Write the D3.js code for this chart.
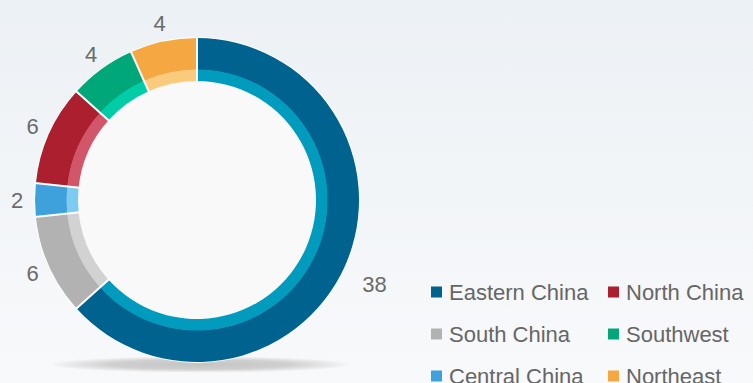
<!DOCTYPE html>
<html>
<head>
<meta charset="utf-8">
<script src="https://cdn.jsdelivr.net/npm/d3@7"></script>
<style>
  html, body { margin: 0; padding: 0; }
  body { width: 753px; height: 383px; overflow: hidden; }
  text { font-family: "Liberation Sans", Arial, sans-serif; }
</style>
</head>
<body>
<svg id="chart"></svg>
<script>
const width = 753;
const height = 383;

// data
const regions = ['Eastern China', 'South China', 'Central China', 'North China', 'Southwest', 'Northeast'];
const counts = [38, 6, 2, 6, 4, 4];
const outerColors = ['#00628f', '#b2b2b2', '#3fa1dc', '#ab1f2e', '#00a879', '#f5a842'];
const innerColors = ['#009bbd', '#d2d2d2', '#7dcbf1', '#d1566a', '#00cca8', '#facb7d'];
const legendOrder = ['Eastern China', 'North China', 'South China', 'Southwest', 'Central China', 'Northeast'];

const cx = 197, cy = 200;
const rOuter = 162, rMid = 130, rInner = 119;

const svg = d3.select('#chart')
  .attr('width', width)
  .attr('height', height);

const defs = svg.append('defs');

const bg = defs.append('linearGradient').attr('id', 'bg')
  .attr('x1', 0).attr('y1', 0).attr('x2', 0).attr('y2', 1);
bg.append('stop').attr('offset', '0%').attr('stop-color', '#ecf1f5');
bg.append('stop').attr('offset', '100%').attr('stop-color', '#f8f9fb');

const shadow = defs.append('radialGradient').attr('id', 'shadow');
shadow.append('stop').attr('offset', '0%').attr('stop-color', '#c4c4c4');
shadow.append('stop').attr('offset', '60%').attr('stop-color', '#cfcfcf');
shadow.append('stop').attr('offset', '100%').attr('stop-color', '#f4f5f7');

svg.append('rect')
  .attr('width', width)
  .attr('height', height)
  .attr('fill', 'url(#bg)');

// shadow under the ring
svg.append('ellipse')
  .attr('cx', 200)
  .attr('cy', 364.5)
  .attr('rx', 148)
  .attr('ry', 8)
  .attr('fill', 'url(#shadow)');

const pie = d3.pie().sort(null).value(d => d)(counts);

const g = svg.append('g').attr('transform', `translate(${cx},${cy})`);

// white backing so the ring has a soft light edge
g.append('circle').attr('r', rOuter + 1).attr('fill', '#ffffff');
g.append('circle').attr('r', rInner).attr('fill', '#f9f9f9');

const arcOuter = d3.arc().innerRadius(rMid).outerRadius(rOuter);
const arcInner = d3.arc().innerRadius(rInner).outerRadius(rMid + 0.5);

g.selectAll('path.outer')
  .data(pie).enter()
  .append('path')
  .attr('class', 'outer')
  .attr('d', arcOuter)
  .attr('fill', (d, i) => outerColors[i]);

g.selectAll('path.inner')
  .data(pie).enter()
  .append('path')
  .attr('class', 'inner')
  .attr('d', arcInner)
  .attr('fill', (d, i) => innerColors[i]);

// white radial separators between slices
g.selectAll('line.sep')
  .data(pie).enter()
  .append('line')
  .attr('class', 'sep')
  .attr('x1', d => Math.sin(d.startAngle) * (rInner - 1))
  .attr('y1', d => -Math.cos(d.startAngle) * (rInner - 1))
  .attr('x2', d => Math.sin(d.startAngle) * (rOuter + 1))
  .attr('y2', d => -Math.cos(d.startAngle) * (rOuter + 1))
  .attr('stroke', '#ffffff')
  .attr('stroke-width', 2);

// value labels
g.selectAll('text.value')
  .data(pie).enter()
  .append('text')
  .attr('class', 'value')
  .each(function(d) {
    const a = (d.startAngle + d.endAngle) / 2;
    const half = String(d.data).length * 6;
    const r = 180 + (half - 6) * 2.4;
    d3.select(this)
      .attr('x', Math.sin(a) * r)
      .attr('y', -Math.cos(a) * r + (Math.sin(a) > 0 ? 5 : 0));
  })
  .attr('text-anchor', 'middle')
  .attr('dominant-baseline', 'central')
  .attr('font-size', 22)
  .attr('fill', '#6b6b6b')
  .text(d => d.data);

// legend
const legend = svg.append('g');
const colX = [431, 608];
const rowY = [292, 334, 376];

legendOrder.forEach((name, k) => {
  const i = regions.indexOf(name);
  const item = legend.append('g')
    .attr('transform', `translate(${colX[k % 2]},${rowY[Math.floor(k / 2)]})`);
  item.append('rect')
    .attr('x', 0).attr('y', -5.5)
    .attr('width', 11).attr('height', 11)
    .attr('fill', outerColors[i]);
  item.append('text')
    .attr('x', 18)
    .attr('y', 0)
    .attr('dominant-baseline', 'central')
    .attr('font-size', 22)
    .attr('fill', '#666666')
    .text(name);
});
</script>
</body>
</html>
